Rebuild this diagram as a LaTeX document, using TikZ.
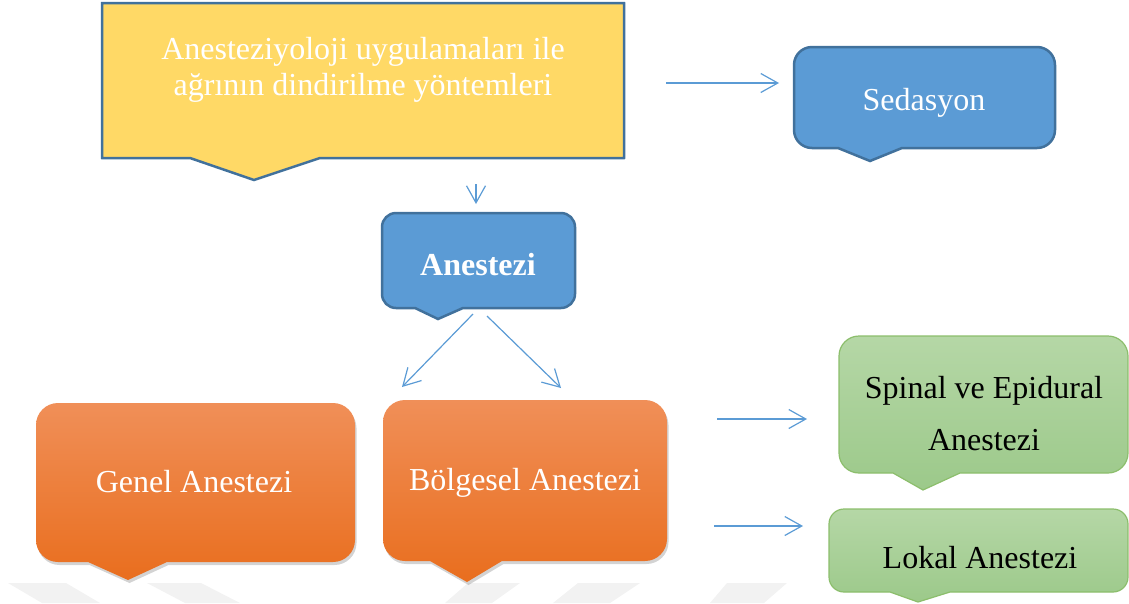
\documentclass[tikz,border=0pt]{standalone}
\usepackage{fontspec}
\setmainfont{Liberation Serif}
\usetikzlibrary{arrows.meta,shadows}
\definecolor{yfill}{HTML}{FFD966}
\definecolor{bfill}{HTML}{5B9BD5}
\definecolor{bline}{HTML}{41719C}
\definecolor{otop}{HTML}{F08F58}
\definecolor{obot}{HTML}{E96E1E}
\definecolor{gtop}{HTML}{B5D7A6}
\definecolor{gbot}{HTML}{9CC98A}
\definecolor{gline}{HTML}{8CBE6C}
\definecolor{arr}{HTML}{5B9BD5}
\definecolor{wm}{HTML}{F2F2F2}
\newcommand\cpath[9]{(#1+#5,#2) -- (#3-#5,#2) arc[start angle=270,end angle=360,radius=#5] -- (#3,#4-#5) arc[start angle=0,end angle=90,radius=#5] -- (#7,#4) -- (#8,#9) -- (#6,#4) -- (#1+#5,#4) arc[start angle=90,end angle=180,radius=#5] -- (#1,#2+#5) arc[start angle=180,end angle=270,radius=#5] -- cycle}
\tikzset{
  yellowbox/.style={fill=yfill,draw=bline,line width=2.5pt},
  bluebox/.style={fill=bfill,draw=bline,line width=2.5pt},
  orangebox/.style={top color=otop,bottom color=obot,drop shadow={shadow xshift=1.5pt,shadow yshift=-3pt,opacity=0.35}},
  greenbox/.style={top color=gtop,bottom color=gbot,draw=gline,line width=1.2pt},
  wtext/.style={text=white,font=\fontsize{32}{36}\selectfont,align=center,inner sep=0pt,anchor=base},
  btext/.style={text=black,font=\fontsize{32}{52}\selectfont,align=center,inner sep=0pt,anchor=base},
  conn/.style={draw=arr,line width=1.2pt,-{Straight Barb[length=17pt,width=19pt,line width=1.2pt]}},
  wmark/.style={fill=wm,draw=none}
}
\begin{document}
\begin{tikzpicture}[x=1pt,y=-1pt]
\useasboundingbox (0,0) rectangle (1129,603);
% watermark
\path[wmark] (8,583) -- (66,583) -- (100,603) -- (42,603) -- cycle;
\path[wmark] (147,583) -- (201,583) -- (240,603) -- (185,603) -- cycle;
\path[wmark] (468,583) -- (520,583) -- (492,603) -- (445,603) -- cycle;
\path[wmark] (578,583) -- (640,583) -- (610,603) -- (553,603) -- cycle;
\path[wmark] (727,583) -- (787,583) -- (764,603) -- (710,603) -- cycle;
% boxes
\path[yellowbox] \cpath{102}{3}{624}{158}{0.01}{190}{320}{254}{180};
\path[bluebox] \cpath{794}{47}{1055}{148}{18}{838}{902}{870}{161};
\path[bluebox] \cpath{382}{213}{575}{308}{14}{415}{463}{438}{319};
\path[orangebox] \cpath{36}{403}{355}{562}{22}{88}{167}{128}{580};
\path[orangebox] \cpath{383}{400}{667}{561}{22}{430}{502}{467}{582};
\path[greenbox] \cpath{839}{336}{1128}{473}{20}{893}{960}{923}{490};
\path[greenbox] \cpath{829}{509}{1128}{592}{15}{890}{950}{918}{602};
% texts
\node[wtext] (top) at (363,95) {Anesteziyoloji uygulamaları ile\\ağrının dindirilme yöntemleri};
\node[wtext] (sed) at (924,110) {Sedasyon};
\node[wtext,font=\fontsize{32}{36}\selectfont\bfseries] (anes) at (478,275) {Anestezi};
\node[wtext] (genel) at (194,492) {Genel Anestezi};
\node[wtext] (bolg) at (525,490) {Bölgesel Anestezi};
\node[btext] (spinal) at (984,450) {Spinal ve Epidural\\Anestezi};
\node[btext] (lokal) at (980,568) {Lokal Anestezi};
% connector ends
\coordinate (a1s) at (666,83);  \coordinate (a1e) at (779,83);
\coordinate (a2s) at (476,184); \coordinate (a2e) at (476,204);
\coordinate (a3s) at (473,314); \coordinate (a3e) at (402,387);
\coordinate (a4s) at (487,316); \coordinate (a4e) at (561,388);
\coordinate (a5s) at (717,419); \coordinate (a5e) at (807,419);
\coordinate (a6s) at (714,526); \coordinate (a6e) at (803,526);
\draw[conn] (a1s) -- (a1e);
\draw[conn] (a2s) -- (a2e);
\draw[conn] (a3s) -- (a3e);
\draw[conn] (a4s) -- (a4e);
\draw[conn] (a5s) -- (a5e);
\draw[conn] (a6s) -- (a6e);
\end{tikzpicture}
\end{document}
